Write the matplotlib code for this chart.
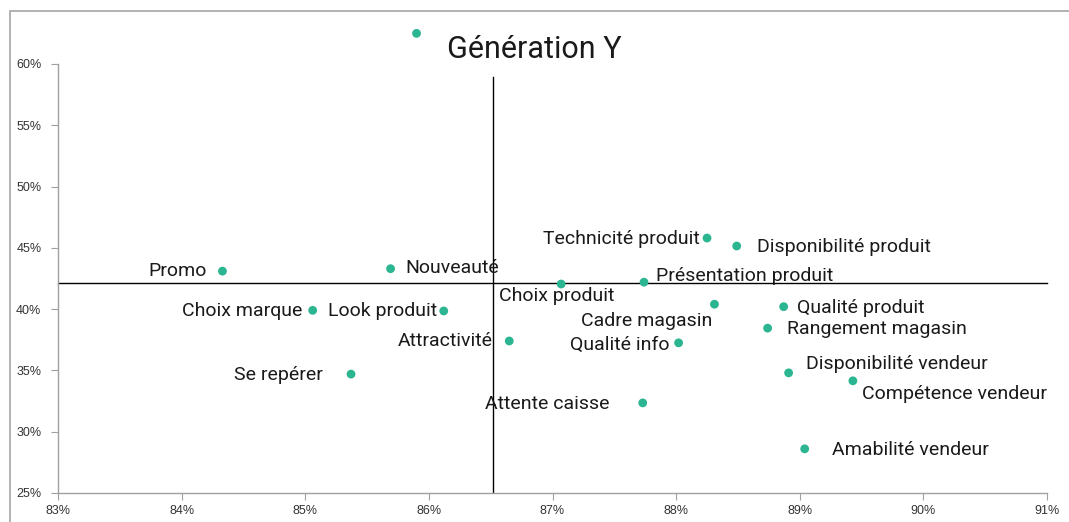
import matplotlib
matplotlib.use("Agg")
import matplotlib.pyplot as plt
from matplotlib.patches import Rectangle
from matplotlib.ticker import FuncFormatter, MultipleLocator

# Data (percent)
labels = ["", "Promo", "Nouveauté", "Choix marque", "Look produit", "Attractivité",
          "Se repérer", "Choix produit", "Présentation produit", "Technicité produit",
          "Disponibilité produit", "Cadre magasin", "Qualité produit", "Rangement magasin",
          "Qualité info", "Attente caisse", "Disponibilité vendeur", "Compétence vendeur",
          "Amabilité vendeur"]
x_vals = [85.90, 84.33, 85.69, 85.06, 86.12, 86.65, 85.37, 87.07, 87.74, 88.25,
          88.49, 88.31, 88.87, 88.74, 88.02, 87.73, 88.91, 89.43, 89.04]
y_vals = [62.5, 43.1, 43.3, 39.9, 39.85, 37.4, 34.7, 42.05, 42.2, 45.8,
          45.15, 40.4, 40.2, 38.45, 37.25, 32.35, 34.8, 34.15, 28.6]
x_cross = 86.52
y_cross = 42.14

# label offsets in pixels (dx, dy) and alignment
offsets = [None, (-16, 0, 'right'), (15, 1, 'left'), (-10, -1, 'right'), (-7, 0, 'right'),
           (-16, 0, 'right'), (-28, -1, 'right'), (-4, -12, 'center'), (12, 6, 'left'),
           (-7, -1, 'right'), (20, -1, 'left'), (-2, -17, 'right'), (13, -1, 'left'),
           (19, -1, 'left'), (-9, -2, 'right'), (-33, -1, 'right'), (17, 9, 'left'),
           (9, -13, 'left'), (27, -1, 'left')]

fig = plt.figure(figsize=(10.69, 5.22), dpi=100)
ax = fig.add_axes([0.0543, 0.0556, 0.9251, 0.8218])

fig.patches.append(Rectangle((10/1069, -0.1), 1.2, 1 - 11/522 + 0.1, transform=fig.transFigure,
                             fill=False, edgecolor='#A6A6A6', linewidth=1.2))

ax.set_xlim(83, 91)
ax.set_ylim(25, 60)
ax.xaxis.set_major_locator(MultipleLocator(1))
ax.yaxis.set_major_locator(MultipleLocator(5))
ax.xaxis.set_major_formatter(FuncFormatter(lambda v, p: f"{v:.0f}%"))
ax.yaxis.set_major_formatter(FuncFormatter(lambda v, p: f"{v:.0f}%"))
for s in ['top', 'right']:
    ax.spines[s].set_visible(False)
for s in ['left', 'bottom']:
    ax.spines[s].set_color('#A0A0A0')
    ax.spines[s].set_linewidth(1.0)
ax.tick_params(axis='both', direction='out', length=5, color='#A0A0A0', labelsize=9,
               labelcolor='#333333', labelfontfamily='Liberation Sans')
ax.tick_params(axis='y', pad=7)
ax.tick_params(axis='x', pad=4)

ax.plot([x_cross, x_cross], [25, 58.9], color='black', linewidth=1.0)
ax.plot([83, 91], [y_cross, y_cross], color='black', linewidth=1.0, clip_on=False)

ax.scatter(x_vals, y_vals, s=40, color='#2BB590', zorder=3, clip_on=False, edgecolors='none')

for lab, x, y, off in zip(labels, x_vals, y_vals, offsets):
    if off is None:
        continue
    dx, dy, ha = off
    ax.annotate(lab, (x, y), xytext=(dx * 0.72, dy * 0.72), textcoords='offset points',
                ha=ha, va='center', fontsize=14, family='Roboto', color='#1a1a1a')

fig.text(0.5, 1 - 50/522, "Génération Y", ha='center', va='center', fontsize=22,
         family='Roboto', color='#1a1a1a')

fig.savefig("out.png", dpi=100)
